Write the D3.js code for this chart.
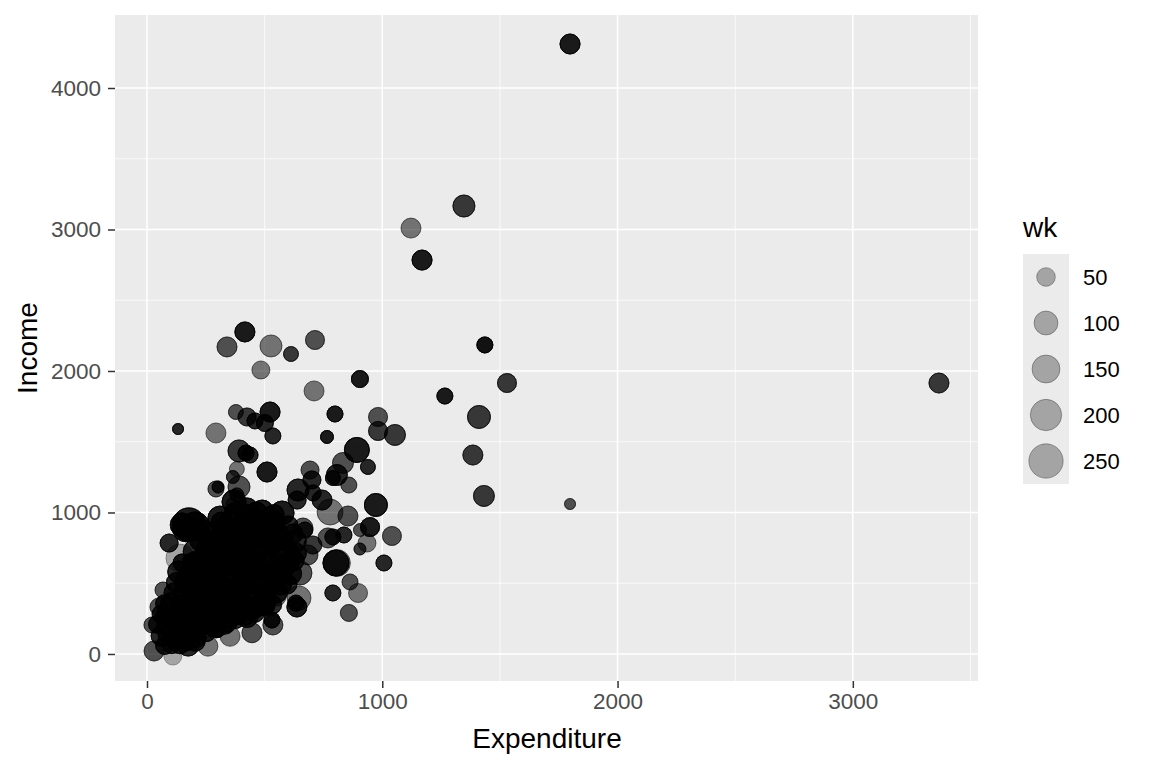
<!DOCTYPE html>
<html>
<head>
<meta charset="utf-8">
<script src="https://cdn.jsdelivr.net/npm/d3@7"></script>
<style>
body { margin: 0; background: #fff; }
text { font-family: "Liberation Sans", Arial, sans-serif; }
</style>
</head>
<body>
<div id="chart"></div>
<script>
// points that can be told apart
// repeats = how many rows sit on the same spot (darker dot)
var expenditure = [1798,1347,1122,1169,416,340,527,612,714,484,905,710,1436,1530,1266,1411,1385,1432,1798,3366,
    132,293,378,425,459,501,523,535,391,421,438,510,382,365,293,302,391,382,361,
    799,765,982,982,1054,892,833,939,807,790,858,693,701,973,778,854,1041,948,905,935,905,1007,803,807,
    863,897,790,858,646,637,633,837,790,769,705,684,663,671,
    140,149,94,68,30,51,21,110,259,353,446,535,531,552,650,
    178,150,205,165,574,642,744,638,706,370,425,490,310];
var income = [4311,3166,3010,2784,2276,2170,2177,2120,2219,2007,1943,1859,2184,1915,1823,1675,1406,1117,1060,1915,
    1590,1562,1710,1675,1647,1632,1710,1541,1435,1420,1406,1286,1307,1251,1166,1180,1180,1124,1060,
    1696,1534,1675,1576,1548,1442,1350,1322,1265,1244,1194,1300,1230,1053,1003,975,834,897,876,784,742,643,643,643,
    509,431,431,290,396,332,360,841,827,820,770,700,890,876,
    678,643,784,452,21,332,205,-15,55,125,150,205,240,403,572,
    915,912,905,885,996,1159,1088,1088,1138,1075,1025,1010,960];
var wk = [61,80,61,61,61,61,80,25,53,45,38,61,31,53,31,90,61,70,8,61,
    8,61,25,45,31,38,61,31,80,31,31,61,25,15,31,11,80,20,11,
    31,15,53,53,70,112,70,25,70,25,31,45,45,90,124,61,53,53,15,45,11,31,124,137,
    31,53,31,38,101,61,31,31,31,61,45,61,61,31,
    151,45,45,31,61,45,31,45,61,61,61,61,31,45,101,
    230,101,151,124,101,80,61,45,31,101,80,80,101];
var repeats = [6,4,2,6,6,3,2,4,3,2,6,2,7,4,6,4,4,4,3,4,
    5,2,3,4,5,5,6,5,4,6,5,6,2,4,3,5,3,4,2,
    6,6,3,4,4,6,3,5,5,5,3,3,5,6,2,3,3,6,3,2,4,5,6,2,
    3,2,5,3,2,6,5,5,5,3,4,3,3,5,
    1,6,5,3,3,3,3,1,2,2,3,3,6,2,3,
    6,6,6,6,6,5,5,5,5,6,6,6,6];

// the solid black mass near the origin, estimated row by row
var coreExpenditure = [75,105,140,175,205,
    60,90,125,165,205,
    45,80,120,160,200,245,290,330,
    60,85,125,170,210,255,300,340,385,425,460,
    75,105,150,190,235,280,325,365,410,455,495,530,
    115,155,200,245,290,330,375,420,460,505,550,
    125,170,215,255,300,345,390,430,475,520,565,595,
    135,180,225,270,310,355,400,445,490,530,575,610,
    190,210,250,295,340,385,425,470,515,560,600,625,
    205,250,290,335,380,420,465,510,550,595,635,
    225,270,315,360,400,445,490,535,580,630,
    240,285,330,375,420,465,510,555,620,
    315,360,405,450,495,540,600,
    375,420,465,540,
    165,210,250,295,375,415,340,455,500];
var coreIncome = [60,66,72,63,90,
    128,135,122,140,180,
    210,198,215,205,192,212,200,218,
    282,282,275,290,268,285,272,295,278,265,288,
    355,355,348,362,340,358,345,366,352,338,360,350,
    432,420,440,428,418,436,425,442,415,430,438,
    505,512,496,510,500,518,492,508,498,515,502,494,
    580,572,588,566,584,575,592,570,586,564,578,568,
    650,642,658,636,654,646,662,640,656,634,648,660,
    725,732,718,738,722,730,715,735,720,728,712,
    800,792,808,786,804,796,812,790,806,798,
    870,862,878,856,874,866,882,860,848,
    932,948,926,944,936,930,905,
    990,985,995,985,
    85,120,165,185,250,275,225,320,340];
var coreWk = [45,45,61,80,61,
    61,61,101,80,80,
    45,45,101,124,80,61,101,80,
    45,61,124,80,101,61,80,124,61,80,45,
    45,80,61,101,124,61,80,101,80,61,101,61,
    61,80,124,61,101,80,61,124,80,61,80,
    61,101,80,61,124,80,61,101,61,80,101,61,
    80,61,101,80,61,124,80,101,61,80,61,80,
    45,101,80,124,61,80,101,61,80,61,80,61,
    101,61,80,61,124,80,61,101,61,80,61,
    61,80,101,61,80,124,61,80,61,80,
    80,61,101,80,61,80,101,61,61,
    61,80,61,80,61,80,61,
    80,61,80,61,
    45,61,80,61,61,61,61,61,61];
var coreRepeats = 5;

var xTicks = [0, 1000, 2000, 3000];
var xMinor = [500, 1500, 2500, 3500];
var yTicks = [0, 1000, 2000, 3000, 4000];
var yMinor = [500, 1500, 2500, 3500];
var legendValues = [50, 100, 150, 200, 250];

var width = 1152, height = 768;
var left = 115, right = 978, top_ = 15, bottom = 681;

var svg = d3.select('#chart').append('svg')
    .attr('width', width)
    .attr('height', height)
    .style('display', 'block');

var x = d3.scaleLinear().domain([-136, 3532]).range([left, right]);
var y = d3.scaleLinear().domain([-191, 4516]).range([bottom, top_]);
// dot diameter comes out about 6px at wk 0 and 36px at wk 280
var radius = d3.scaleSqrt().domain([0, 280]).range([3, 18]);

svg.append('rect')
    .attr('x', left).attr('y', top_)
    .attr('width', right - left).attr('height', bottom - top_)
    .attr('fill', '#ebebeb');

// grid
svg.selectAll('.minor-v').data(xMinor).enter().append('line')
    .attr('x1', x).attr('x2', x).attr('y1', top_).attr('y2', bottom)
    .attr('stroke', '#fff').attr('stroke-width', 0.75);
svg.selectAll('.minor-h').data(yMinor).enter().append('line')
    .attr('y1', y).attr('y2', y).attr('x1', left).attr('x2', right)
    .attr('stroke', '#fff').attr('stroke-width', 0.75);
svg.selectAll('.major-v').data(xTicks).enter().append('line')
    .attr('x1', x).attr('x2', x).attr('y1', top_).attr('y2', bottom)
    .attr('stroke', '#fff').attr('stroke-width', 1.5);
svg.selectAll('.major-h').data(yTicks).enter().append('line')
    .attr('y1', y).attr('y2', y).attr('x1', left).attr('x2', right)
    .attr('stroke', '#fff').attr('stroke-width', 1.5);

// expand rows so that repeated rows stack up and go darker
var rows = [];
expenditure.forEach(function (d, i) {
    for (var k = 0; k < repeats[i]; k++) {
        rows.push({e: d, inc: income[i], w: wk[i]});
    }
});
coreExpenditure.forEach(function (d, i) {
    for (var k = 0; k < coreRepeats; k++) {
        rows.push({e: d, inc: coreIncome[i], w: coreWk[i]});
    }
});

svg.append('g').selectAll('circle').data(rows).enter().append('circle')
    .attr('cx', function (d) { return x(d.e); })
    .attr('cy', function (d) { return y(d.inc); })
    .attr('r', function (d) { return radius(d.w); })
    .attr('fill', '#000').attr('fill-opacity', 0.3)
    .attr('stroke', '#000').attr('stroke-opacity', 0.3).attr('stroke-width', 1);

// axes
var xAxis = svg.append('g')
    .attr('transform', 'translate(0,' + bottom + ')')
    .call(d3.axisBottom(x).tickValues(xTicks).tickSize(7).tickPadding(5).tickFormat(d3.format('d')));
var yAxis = svg.append('g')
    .attr('transform', 'translate(' + left + ',0)')
    .call(d3.axisLeft(y).tickValues(yTicks).tickSize(7).tickPadding(7).tickFormat(d3.format('d')));
[xAxis, yAxis].forEach(function (a) {
    a.select('.domain').remove();
    a.selectAll('.tick line').attr('stroke', '#333').attr('stroke-width', 1.5);
    a.selectAll('.tick text').attr('fill', '#4d4d4d')
        .style('font-size', '22.5px').style('font-family', '"Liberation Sans", Arial, sans-serif');
});

svg.append('text')
    .attr('x', 547).attr('y', 748)
    .attr('text-anchor', 'middle').attr('font-size', 28).attr('fill', '#000')
    .text('Expenditure');
svg.append('text')
    .attr('transform', 'translate(37,348) rotate(-90)')
    .attr('text-anchor', 'middle').attr('font-size', 28).attr('fill', '#000')
    .text('Income');

// legend
svg.append('text')
    .attr('x', 1023).attr('y', 237)
    .attr('font-size', 28).attr('fill', '#000')
    .text('wk');
var legend = d3.scaleBand().domain(legendValues).range([254, 484]);
svg.append('rect')
    .attr('x', 1023).attr('y', 254)
    .attr('width', 46).attr('height', 230)
    .attr('fill', '#ebebeb');
var key = svg.selectAll('.key').data(legendValues).enter().append('g')
    .attr('transform', function (d) { return 'translate(1046,' + (legend(d) + legend.bandwidth() / 2) + ')'; });
key.append('circle')
    .attr('r', radius)
    .attr('fill', '#000').attr('fill-opacity', 0.3)
    .attr('stroke', '#000').attr('stroke-opacity', 0.3).attr('stroke-width', 1);
key.append('text')
    .attr('x', 37).attr('y', 8)
    .attr('font-size', 22).attr('fill', '#000')
    .text(function (d) { return d; });
</script>
</body>
</html>
